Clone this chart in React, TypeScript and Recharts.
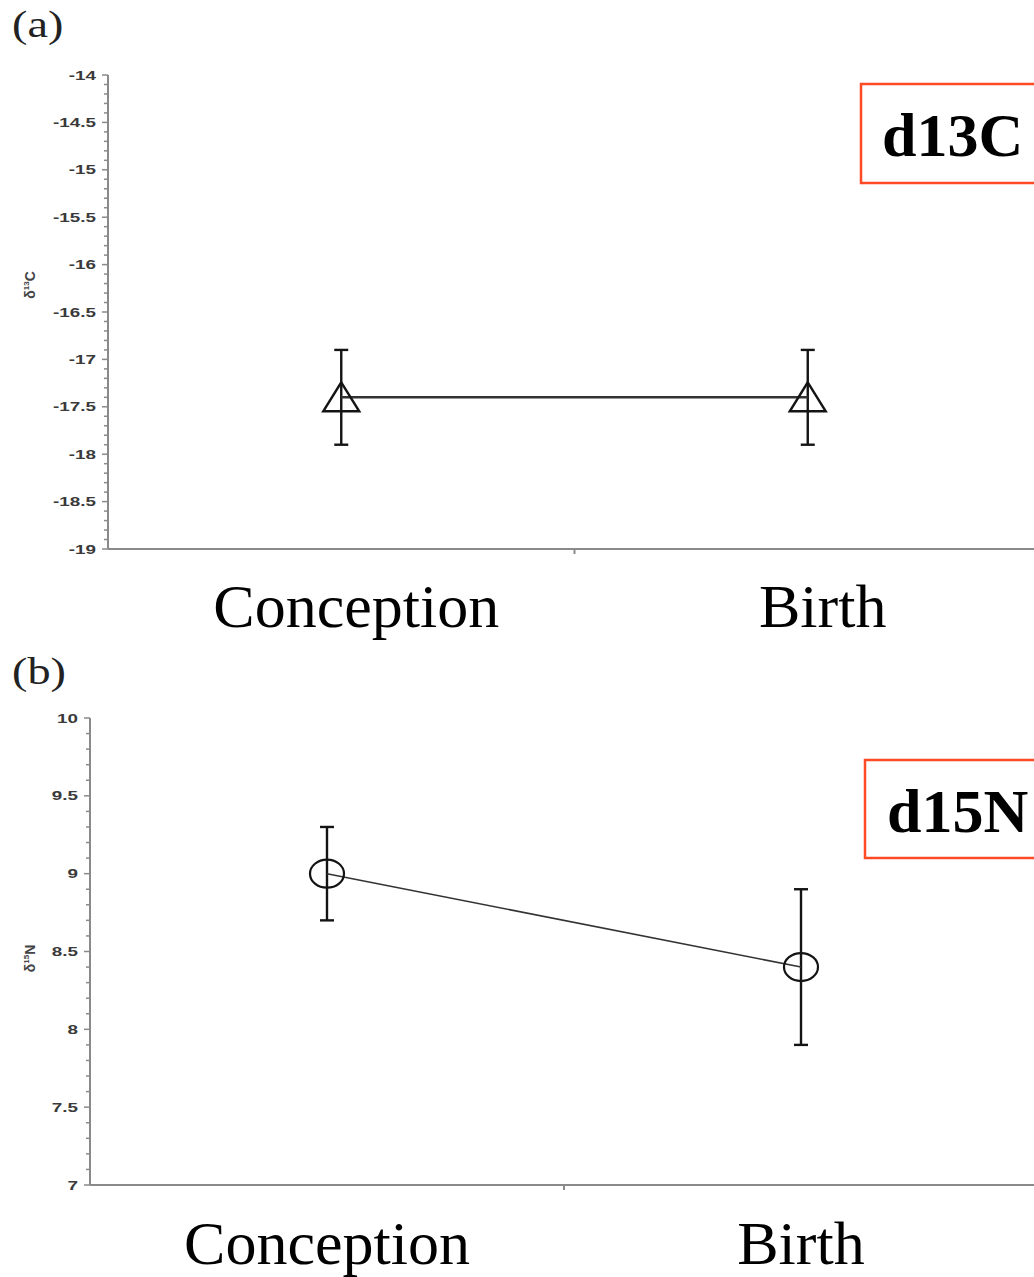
import { LineChart, Line, XAxis, YAxis, ErrorBar, Label } from 'recharts'

const stages = ['Conception', 'Birth']

const carbonMean = [-17.4, -17.4]
const carbonErr = [0.5, 0.5]
const carbonTicks = [-19, -18.5, -18, -17.5, -17, -16.5, -16, -15.5, -15, -14.5, -14]

const nitrogenMean = [9.0, 8.4]
const nitrogenErr = [0.3, 0.5]
const nitrogenTicks = [7, 7.5, 8, 8.5, 9, 9.5, 10]

const carbonData = stages.map((stage, i) => ({ stage, value: carbonMean[i], err: carbonErr[i] }))
const nitrogenData = stages.map((stage, i) => ({ stage, value: nitrogenMean[i], err: nitrogenErr[i] }))

const AXIS = '#8a8a8a'
const INK = '#141414'
const SERIF = '"Liberation Serif", "Times New Roman", serif'
const SANS = '"Liberation Sans", Arial, sans-serif'

// five minor divisions between each pair of labelled ticks
function withMinor(major: number[]) {
    const out: number[] = []
    for (let i = 0; i < major.length - 1; i++) {
        const step = (major[i + 1] - major[i]) / 5
        for (let k = 0; k < 5; k++) out.push(+(major[i] + k * step).toFixed(3))
    }
    out.push(major[major.length - 1])
    return out
}

function makeYTick(majors: number[]) {
    return (props: any) => {
        const { x, y, payload } = props
        const major = majors.includes(payload.value)
        return (
            <g>
                <line x1={x - (major ? 6 : 4)} x2={x} y1={y} y2={y} stroke={AXIS} strokeWidth={1.5} />
                {major && (
                    <text
                        transform={`translate(${x - 12},${y + 4.5}) scale(1.45,1)`}
                        textAnchor="end"
                        fontSize={13}
                        fontWeight={700}
                        fontFamily={SANS}
                        fill="#3a3a3a"
                    >
                        {payload.value}
                    </text>
                )}
            </g>
        )
    }
}

// category label plus the small separator tick between neighbouring bands
function makeXTick(dx: number, dy: number, count: number) {
    return (props: any) => {
        const { x, y, payload, index } = props
        const half = payload.offset || 0
        return (
            <g>
                {index < count - 1 && half > 0 && (
                    <line x1={x + half} x2={x + half} y1={y} y2={y + 5} stroke={AXIS} strokeWidth={2} />
                )}
                <text x={x + dx} y={y + dy} textAnchor="middle" fontSize={62} fontFamily={SERIF} fill="#000">
                    {payload.value}
                </text>
            </g>
        )
    }
}

function makeTitle(sup: string, letter: string, dx: number, dy: number) {
    return (props: any) => {
        const vb = props.viewBox
        const cx = vb.x + dx
        const cy = vb.y + vb.height / 2 + dy
        return (
            <text
                transform={`translate(${cx},${cy}) rotate(-90)`}
                textAnchor="middle"
                fontSize={14}
                fontWeight={700}
                fontFamily={SANS}
                fill="#444"
                dy={5}
            >
                δ<tspan fontSize={8} dy={-6}>{sup}</tspan>
                <tspan dy={6}>{letter}</tspan>
            </text>
        )
    }
}

function Triangle(props: any) {
    const { cx, cy } = props
    return (
        <path
            d={`M${cx},${cy - 15} L${cx + 18},${cy + 14} L${cx - 18},${cy + 14} Z`}
            fill="none"
            stroke={INK}
            strokeWidth={2.4}
        />
    )
}

function Ring(props: any) {
    const { cx, cy } = props
    return <ellipse cx={cx} cy={cy} rx={17} ry={14} fill="none" stroke={INK} strokeWidth={2.2} />
}

type PanelProps = {
    data: { stage: string; value: number; err: number }[]
    majors: number[]
    top: number
    height: number
    margin: { top: number; right: number; bottom: number; left: number }
    yWidth: number
    lineWidth: number
    marker: 'triangle' | 'ring'
    labelDx: number
    labelDy: number
    titleSup: string
    titleLetter: string
    titleDy: number
}

function Panel(p: PanelProps) {
    const ticks = withMinor(p.majors)
    const domain = [p.majors[0], p.majors[p.majors.length - 1]]
    return (
        <div style={{ position: 'absolute', left: 0, top: p.top }}>
            <LineChart width={1060} height={p.height} data={p.data} margin={p.margin}>
                <XAxis
                    dataKey="stage"
                    scale="band"
                    interval={0}
                    height={100}
                    tickSize={0}
                    tickMargin={0}
                    tickLine={false}
                    axisLine={{ stroke: AXIS, strokeWidth: 2 }}
                    tick={makeXTick(p.labelDx, p.labelDy, p.data.length)}
                />
                <YAxis
                    type="number"
                    domain={domain}
                    ticks={ticks}
                    interval={0}
                    width={p.yWidth}
                    tickSize={0}
                    tickMargin={0}
                    tickLine={false}
                    axisLine={{ stroke: AXIS, strokeWidth: 2 }}
                    tick={makeYTick(p.majors)}
                >
                    <Label content={makeTitle(p.titleSup, p.titleLetter, 20, p.titleDy)} />
                </YAxis>
                <Line
                    dataKey="value"
                    stroke="#333"
                    strokeWidth={p.lineWidth}
                    isAnimationActive={false}
                    activeDot={false}
                    dot={(d: any) =>
                        p.marker === 'triangle' ? (
                            <Triangle key={`m-${d.index}`} cx={d.cx} cy={d.cy} />
                        ) : (
                            <Ring key={`m-${d.index}`} cx={d.cx} cy={d.cy} />
                        )
                    }
                >
                    <ErrorBar dataKey="err" direction="y" width={7} stroke={INK} strokeWidth={2.4} />
                </Line>
            </LineChart>
        </div>
    )
}

export default function App() {
    return (
        <div
            style={{
                position: 'absolute',
                left: 0,
                top: 0,
                width: 1034,
                height: 1277,
                overflow: 'hidden',
                background: '#fff',
            }}
        >
            <Panel
                data={carbonData}
                majors={carbonTicks}
                top={0}
                height={660}
                margin={{ top: 75, right: 19, bottom: 11, left: 10 }}
                yWidth={98}
                lineWidth={2.5}
                marker="triangle"
                labelDx={15}
                labelDy={78}
                titleSup="13"
                titleLetter="C"
                titleDy={-27}
            />
            <Panel
                data={nitrogenData}
                majors={nitrogenTicks}
                top={650}
                height={640}
                margin={{ top: 68, right: 22, bottom: 5, left: 10 }}
                yWidth={80}
                lineWidth={1.6}
                marker="ring"
                labelDx={0}
                labelDy={79}
                titleSup="15"
                titleLetter="N"
                titleDy={7}
            />
            <svg
                width={1034}
                height={1277}
                style={{ position: 'absolute', left: 0, top: 0, pointerEvents: 'none' }}
            >
                <text transform="translate(12,37) scale(1.25,1)" fontSize={37} fontFamily={SERIF} fill="#222">(a)</text>
                <text transform="translate(12,684) scale(1.25,1)" fontSize={37} fontFamily={SERIF} fill="#222">(b)</text>
                <rect x={861} y={84} width={200} height={99} fill="#fff" stroke="#ff4a26" strokeWidth={2.5} />
                <text x={882} y={156} fontSize={62} fontWeight={700} fontFamily={SERIF} fill="#000">d13C</text>
                <rect x={865} y={760} width={200} height={98} fill="#fff" stroke="#ff4a26" strokeWidth={2.5} />
                <text x={887} y={832} fontSize={62} fontWeight={700} fontFamily={SERIF} fill="#000">d15N</text>
            </svg>
        </div>
    )
}
